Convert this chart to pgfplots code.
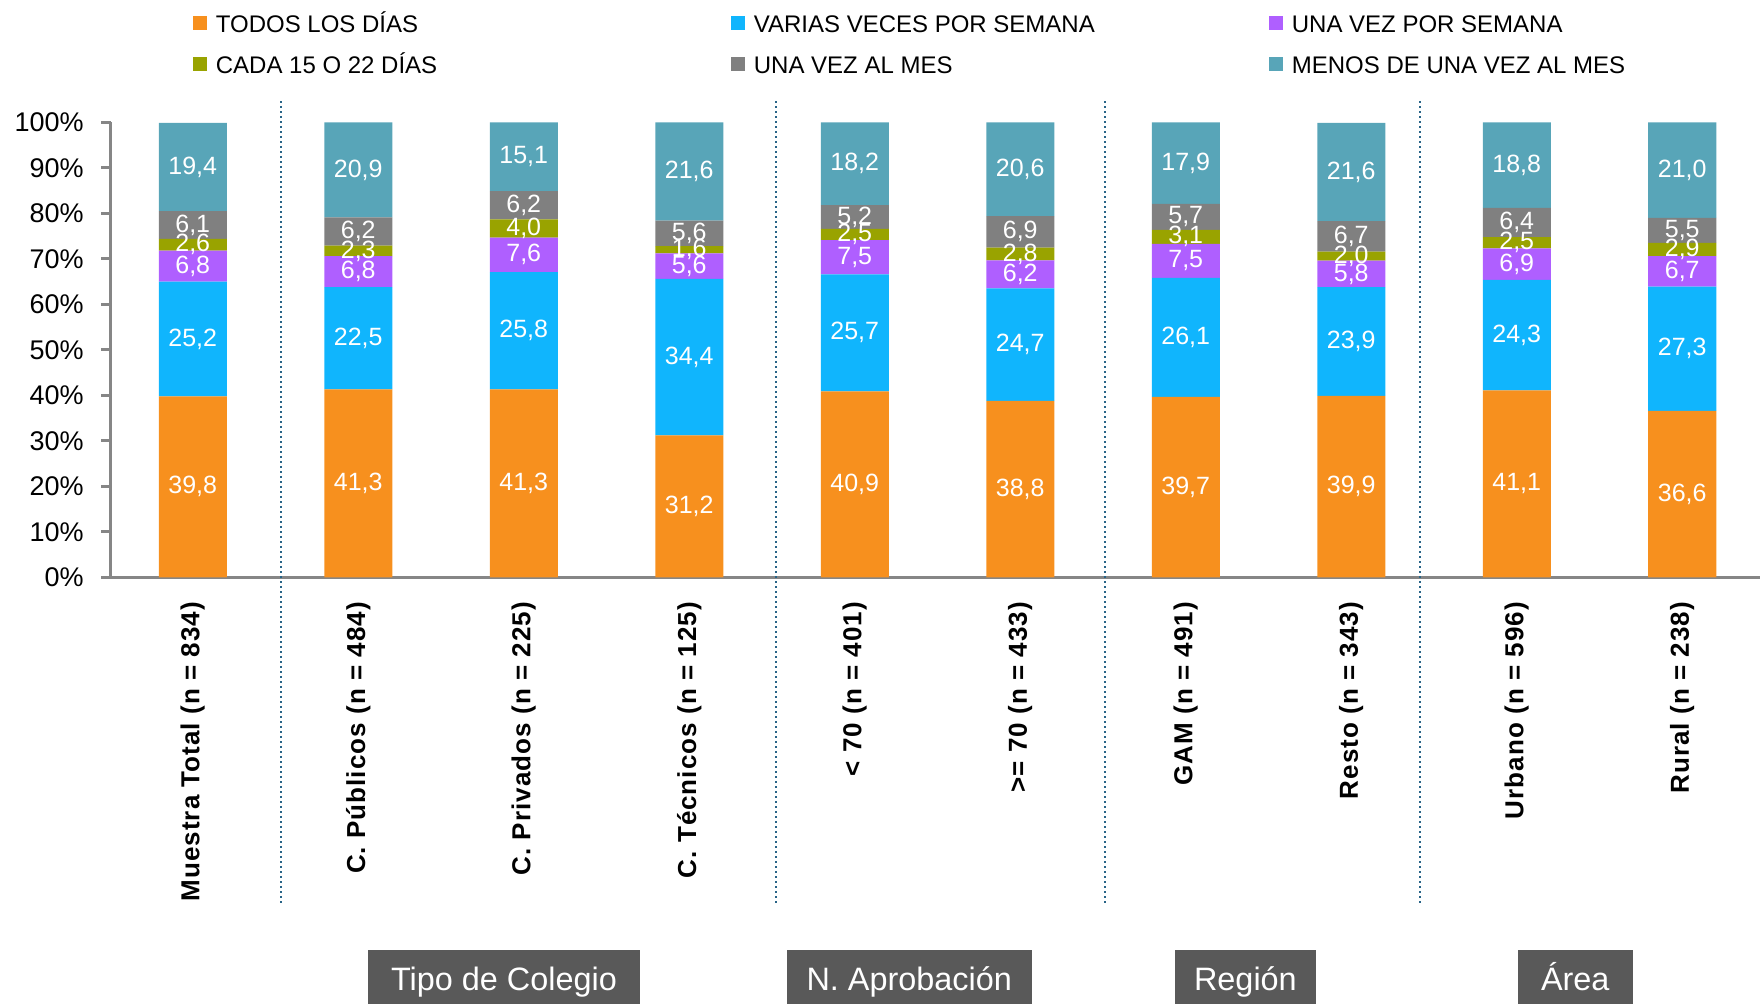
\documentclass[border=0pt]{standalone}
\usepackage{fontspec}
\setmainfont{Liberation Sans}
\newfontfamily\catfont{Liberation Sans}[LetterSpace=4.0]
\usepackage{pgfplots}
\usepackage{pgfplotstable}
\pgfplotsset{compat=1.18}
\definecolor{cTodos}{RGB}{247,144,30}
\definecolor{cVarias}{RGB}{16,181,253}
\definecolor{cUnaSem}{RGB}{175,95,255}
\definecolor{cCada}{RGB}{153,163,0}
\definecolor{cUnaMes}{RGB}{128,128,128}
\definecolor{cMenos}{RGB}{88,165,184}
\definecolor{axisgray}{RGB}{134,134,134}
\definecolor{sepblue}{RGB}{40,100,135}
\definecolor{boxgray}{RGB}{89,89,89}

\pgfplotstableread{
x a b c d e f
0 39.8 25.2 6.8 2.6 6.1 19.4
1 41.3 22.5 6.8 2.3 6.2 20.9
2 41.3 25.8 7.6 4.0 6.2 15.1
3 31.2 34.4 5.6 1.6 5.6 21.6
4 40.9 25.7 7.5 2.5 5.2 18.2
5 38.8 24.7 6.2 2.8 6.9 20.6
6 39.7 26.1 7.5 3.1 5.7 17.9
7 39.9 23.9 5.8 2.0 6.7 21.6
8 41.1 24.3 6.9 2.5 6.4 18.8
9 36.6 27.3 6.7 2.9 5.5 21.0
}\data

\pgfplotsset{
  common/.style={
    at={(55.5pt,213.3pt)}, anchor=south west,
    scale only axis, width=824.5pt, height=227.5pt,
    xmin=-0.494, xmax=9.47, ymin=0, ymax=100,
  },
  sq/.style={legend image code/.code={\fill[#1] (0pt,-2pt) rectangle (7pt,5pt);}},
}
\begin{document}
\begin{tikzpicture}
\begin{axis}[common,
  ybar stacked, bar width=34pt,
  axis x line*=bottom, axis y line*=left,
  axis line style={draw=axisgray, line width=1.5pt},
  ytick={0,10,...,100},
  yticklabel={\pgfmathprintnumber{\tick}\%},
  /pgf/number format/assume math mode=true,
  yticklabel style={font=\fontsize{13.5}{14}\selectfont, inner sep=0pt},
  yticklabel shift=8.7pt,
  tick align=outside, major tick length=4.8pt,
  ytick style={draw=axisgray, line width=1.5pt},
  xtick={0,...,9},
  xtick style={draw=none},
  xticklabels={Muestra Total (n = 834), C. Públicos (n = 484), C. Privados (n = 225), C. Técnicos (n = 125), < 70 (n = 401), >= 70 (n = 433), GAM (n = 491), Resto (n = 343), Urbano (n = 596), Rural (n = 238)},
  xticklabel style={rotate=90, anchor=east, inner sep=0pt, font=\catfont\bfseries\fontsize{13}{14}\selectfont},
  xticklabel shift=7.4pt,
  clip=false,
  legend columns=3,
  legend cell align=left,
  legend style={at={(axis description cs:0.0497,1.2371)}, anchor=north west, draw=none, fill=none, inner sep=0pt, column sep=0pt, row sep=8.95pt, font=\fontsize{12}{14}\selectfont, nodes={inner xsep=4.25pt, inner ysep=0pt, text height=9pt, text depth=2.5pt}},
]
\addplot[fill=cTodos, draw=none, sq=cTodos] table[x=x, y=a]{\data};
\addlegendentry{\makebox[253.5pt][l]{TODOS LOS DÍAS}}
\addplot[fill=cVarias, draw=none, sq=cVarias] table[x=x, y=b]{\data};
\addlegendentry{\makebox[253.5pt][l]{VARIAS VECES POR SEMANA}}
\addplot[fill=cUnaSem, draw=none, sq=cUnaSem] table[x=x, y=c]{\data};
\addlegendentry{\makebox[253.5pt][l]{UNA VEZ POR SEMANA}}
\addplot[fill=cCada, draw=none, sq=cCada] table[x=x, y=d]{\data};
\addlegendentry{\makebox[253.5pt][l]{CADA 15 O 22 DÍAS}}
\addplot[fill=cUnaMes, draw=none, sq=cUnaMes] table[x=x, y=e]{\data};
\addlegendentry{\makebox[253.5pt][l]{UNA VEZ AL MES}}
\addplot[fill=cMenos, draw=none, sq=cMenos] table[x=x, y=f]{\data};
\addlegendentry{\makebox[253.5pt][l]{MENOS DE UNA VEZ AL MES}}
\draw[sepblue, line width=1pt, dash pattern=on 1pt off 1.5pt] (axis cs:0.536,-71.5) -- (axis cs:0.536,104.9);
\draw[sepblue, line width=1pt, dash pattern=on 1pt off 1.5pt] (axis cs:3.522,-71.5) -- (axis cs:3.522,104.9);
\draw[sepblue, line width=1pt, dash pattern=on 1pt off 1.5pt] (axis cs:5.512,-71.5) -- (axis cs:5.512,104.9);
\draw[sepblue, line width=1pt, dash pattern=on 1pt off 1.5pt] (axis cs:7.414,-71.5) -- (axis cs:7.414,104.9);
\end{axis}
\begin{axis}[common, hide axis,
  nodes near coords, point meta=explicit,
  every node near coord/.style={anchor=center, text=white, font=\fontsize{12.5}{13}\selectfont, inner sep=0pt},
  /pgf/number format/fixed, /pgf/number format/fixed zerofill,
  /pgf/number format/precision=1, /pgf/number format/use comma,
  /pgf/number format/assume math mode=true,
]
\addplot[draw=none] table[x=x, y expr=\thisrow{a}/2, meta=a]{\data};
\addplot[draw=none] table[x=x, y expr=\thisrow{a}+\thisrow{b}/2, meta=b]{\data};
\addplot[draw=none] table[x=x, y expr=\thisrow{a}+\thisrow{b}+\thisrow{c}/2, meta=c]{\data};
\addplot[draw=none] table[x=x, y expr=\thisrow{a}+\thisrow{b}+\thisrow{c}+\thisrow{d}/2, meta=d]{\data};
\addplot[draw=none] table[x=x, y expr=\thisrow{a}+\thisrow{b}+\thisrow{c}+\thisrow{d}+\thisrow{e}/2, meta=e]{\data};
\addplot[draw=none] table[x=x, y expr=\thisrow{a}+\thisrow{b}+\thisrow{c}+\thisrow{d}+\thisrow{e}+\thisrow{f}/2, meta=f]{\data};
\end{axis}
\fill[boxgray] (184pt,0pt) rectangle (320pt,27pt);
\node[text=white, font=\fontsize{16.2}{17}\selectfont, anchor=base, inner sep=0pt] at (252pt,6.65pt) {Tipo de Colegio};
\fill[boxgray] (393.4pt,0pt) rectangle (515.75pt,27pt);
\node[text=white, font=\fontsize{16.2}{17}\selectfont, anchor=base, inner sep=0pt] at (454.6pt,6.65pt) {N. Aprobación};
\fill[boxgray] (587.6pt,0pt) rectangle (657.75pt,27pt);
\node[text=white, font=\fontsize{16.2}{17}\selectfont, anchor=base, inner sep=0pt] at (622.7pt,6.65pt) {Región};
\fill[boxgray] (758.75pt,0pt) rectangle (816.5pt,27pt);
\node[text=white, font=\fontsize{16.2}{17}\selectfont, anchor=base, inner sep=0pt] at (787.6pt,6.65pt) {Área};
\pgfresetboundingbox
\useasboundingbox (0pt,0pt) rectangle (880pt,502pt);
\end{tikzpicture}
\end{document}
